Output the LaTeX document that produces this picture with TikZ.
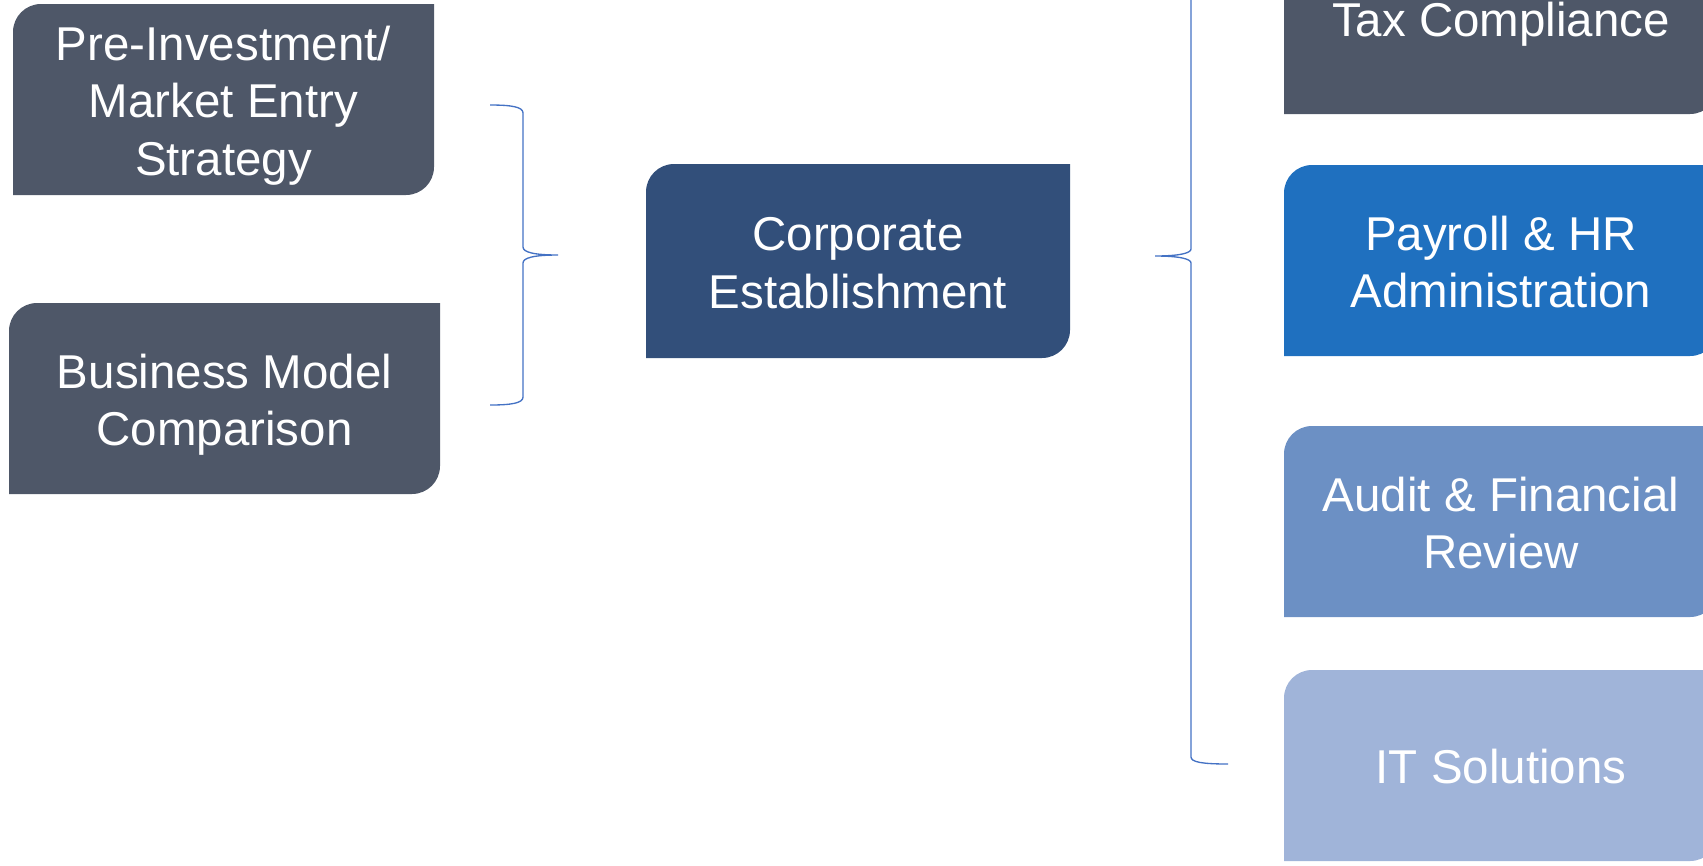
\documentclass[tikz,border=0pt]{standalone}
\usepackage{fontspec}
\setmainfont{Liberation Sans}
\usetikzlibrary{calc}

\definecolor{slate}{HTML}{4E5768}
\definecolor{corpblue}{HTML}{324F7A}
\definecolor{payblue}{HTML}{1F70BF}
\definecolor{auditblue}{HTML}{6C90C4}
\definecolor{itblue}{HTML}{A0B4D9}
\definecolor{bracecol}{HTML}{4472C4}

% struts giving every text block the same ascent and descent
\newcommand\topstrut{\rule{0pt}{35pt}}
\newcommand\botstrut{\rule[-7.5pt]{0pt}{7.5pt}}

\begin{document}
\begin{tikzpicture}[
  x=0.75pt, y=-0.75pt,
  % box with rounded top-left and bottom-right corners
  tile/.style={rectangle, inner sep=0pt, text=white, align=center,
    font=\fontsize{35.6pt}{43.2pt}\selectfont,
    path picture={
      \fill[#1] let \p1=(path picture bounding box.south west),
                    \p2=(path picture bounding box.north east) in
        (\x1,\y1) -- (\x1,\y2-21pt)
        .. controls (\x1,\y2-9.4pt) and (\x1+9.4pt,\y2) .. (\x1+21pt,\y2)
        -- (\x2,\y2) -- (\x2,\y1+21pt)
        .. controls (\x2,\y1+9.4pt) and (\x2-9.4pt,\y1) .. (\x2-21pt,\y1)
        -- cycle;
    }},
  rightcol/.style={tile=#1, minimum width=325.5pt, minimum height=143.25pt},
  brace/.style={draw=bracecol, line width=1pt}
]
\useasboundingbox (0,0) rectangle (1703,865);
\clip (0,0) rectangle (1703,865);

% left column
\node[tile=slate, minimum width=315.75pt, minimum height=143.25pt]
  (pre) at (223.5,99.5) {\topstrut Pre-Investment/\\Market Entry\\Strategy\botstrut};
\node[tile=slate, minimum width=323.25pt, minimum height=143.25pt]
  (biz) at (224.5,398.5) {\topstrut Business Model\\Comparison\botstrut};

% centre
\node[tile=corpblue, minimum width=318pt, minimum height=145.5pt]
  (corp) at (858,261) {\topstrut Corporate\\Establishment\botstrut};

% right column
\node[rightcol=slate]     (tax)   at (1501,18.5)  {\topstrut Tax Compliance\botstrut};
\node[rightcol=payblue]   (pay)   at (1501,260.5) {\topstrut Payroll \& HR\\Administration\botstrut};
\node[rightcol=auditblue] (audit) at (1501,521.5) {\topstrut Audit \& Financial\\Review\botstrut};
\node[rightcol=itblue]    (it)    at (1501,765.5) {\topstrut IT Solutions\botstrut};

% left brace, opening towards the left column
\coordinate (lbTop) at (490,105);
\coordinate (lbTip) at (558,255);
\coordinate (lbBot) at (490,405);
\draw[brace] (lbTop) .. controls (512,105) and (523,107) .. (523,113)
  -- (523,247) .. controls (523,252) and (533,255) .. (lbTip)
  .. controls (533,255) and (523,258) .. (523,263)
  -- (523,397) .. controls (523,403) and (512,405) .. (lbBot);

% right brace, opening towards the right column
\coordinate (rbTop) at (1228,-252);
\coordinate (rbTip) at (1155,256);
\coordinate (rbBot) at (1228,764);
\draw[brace] (rbTop) .. controls (1202,-252) and (1191,-250) .. (1191,-244)
  -- (1191,249) .. controls (1191,253) and (1180,256) .. (rbTip)
  .. controls (1180,256) and (1191,259) .. (1191,263)
  -- (1191,757) .. controls (1191,762) and (1202,764) .. (rbBot);
\end{tikzpicture}
\end{document}
